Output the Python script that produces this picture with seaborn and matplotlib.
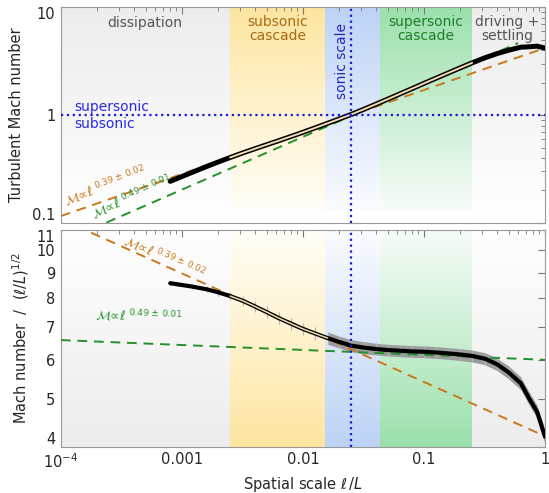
import numpy as np
import matplotlib
matplotlib.use('Agg')
import matplotlib.pyplot as plt
import seaborn as sns
from matplotlib.colors import to_rgb

scale = [0.0008, 0.0012, 0.0016, 0.002, 0.0025, 0.0032, 0.004, 0.005, 0.0063, 0.008,
         0.01, 0.0125, 0.016, 0.02, 0.025, 0.032, 0.04, 0.05, 0.063, 0.08,
         0.1, 0.125, 0.16, 0.2, 0.25, 0.32, 0.4, 0.5, 0.63, 0.75, 0.86, 1.0]
mach_comp = [8.58, 8.45, 8.34, 8.22, 8.08, 7.90, 7.70, 7.50, 7.29, 7.10,
             6.93, 6.79, 6.64, 6.52, 6.41, 6.35, 6.31, 6.28, 6.26, 6.24,
             6.23, 6.21, 6.18, 6.15, 6.11, 6.03, 5.88, 5.66, 5.38, 4.98, 4.71, 4.19]
mach_comp_err = [0.10, 0.11, 0.12, 0.13, 0.15, 0.17, 0.19, 0.20, 0.20, 0.20,
                 0.20, 0.20, 0.19, 0.18, 0.18, 0.18, 0.17, 0.17, 0.17, 0.17,
                 0.17, 0.17, 0.17, 0.17, 0.17, 0.17, 0.17, 0.17, 0.16, 0.15, 0.14, 0.13]

# Ajustes de ley de potencia M ~ l^p
fit_slopes = [0.39, 0.49]
fit_norms = [4.2, 6.0]
fit_colors = ['#c8781e', '#23912a']
fit_labels = [r'$\mathcal{M}\!\propto\!\ell^{\ 0.39\,\pm\,0.02}$',
              r'$\mathcal{M}\!\propto\!\ell^{\ 0.49\,\pm\,0.01}$']

# Regiones
region_names = ['dissipation', 'subsonic\ncascade', 'sonic scale',
                'supersonic\ncascade', 'driving +\nsettling']
region_edges = [1e-4, 0.0025, 0.0152, 0.0433, 0.249, 1.0]
region_colors = ['#ececec', '#fde5a0', '#bcd2f4', '#9adfab', '#ececec']
region_text_colors = ['#555555', '#a86a12', '#2424c0', '#1f7f28', '#555555']
sonic_scale = 0.025

x_ticks = [1e-4, 1e-3, 1e-2, 1e-1, 1]
x_ticklabels = ['10$^{-4}$', '0.001', '0.01', '0.1', '1']
top_yticks = [0.1, 1, 10]
bot_yticks = [4, 5, 6, 7, 8, 9, 10, 11]

sns.set_theme(style='white')
plt.rcParams['font.family'] = ['DejaVu Sans']
plt.rcParams['mathtext.fontset'] = 'dejavusans'

scale_a = np.array(scale)
comp_a = np.array(mach_comp)
err_a = np.array(mach_comp_err)
mach = comp_a * np.sqrt(scale_a)

fig = plt.figure(figsize=(5.49, 4.93), dpi=100)
ax1 = fig.add_axes([0.111, 0.548, 0.8817, 0.437])
ax2 = fig.add_axes([0.111, 0.094, 0.8817, 0.4395])


def shade(ax, x0, x1, color, strong_top, y0=0.0, y1=1.0, n=60):
    c = np.array(to_rgb(color))
    w = np.ones(3)
    edges = np.linspace(y0, y1, n + 1)
    for i in range(n):
        t = (i + 0.5) / n
        s = t if strong_top else 1 - t
        s = 0.08 + 0.92 * s
        ax.axvspan(x0, x1, edges[i], edges[i + 1] + 0.003, color=w + (c - w) * s,
                   lw=0, zorder=0)


for ax in (ax1, ax2):
    ax.set_xscale('log')
    ax.set_yscale('log')
    ax.set_xlim(1e-4, 1)
for i in range(5):
    shade(ax1, region_edges[i], region_edges[i + 1], region_colors[i], True, y0=0.06)
    shade(ax2, region_edges[i], region_edges[i + 1], region_colors[i], False)

# ---- panel superior ----
ax1.set_ylim(0.1, 10)
xfit = np.array([1e-4, 1.0])
ax1.plot(xfit, fit_norms[0] * xfit ** fit_slopes[0], ls='--', dashes=(5, 3.5),
         color=fit_colors[0], lw=1.4, zorder=3)
xg = np.array([1e-4, 0.6])
ax1.plot(xg, fit_norms[1] * xg ** fit_slopes[1], ls='--', dashes=(5, 3.5),
         color=fit_colors[1], lw=1.4, zorder=3)
sns.lineplot(x=scale_a, y=mach, ax=ax1, color='black', lw=3.6, zorder=4)
mid = (scale_a >= 0.0025) & (scale_a <= 0.25)
ax1.plot(scale_a[mid], mach[mid], color='#f1dcb0', lw=1.4, zorder=5)
ax1.axhline(1, color='#1a1ad8', ls=':', lw=1.6, zorder=6)
ax1.axvline(sonic_scale, color='#1a1ad8', ls=':', lw=1.6, zorder=6)

ax1.text(1.3e-4, 1.2, 'supersonic', color='#2a2ae0', fontsize=10, va='center')
ax1.text(1.3e-4, 0.83, 'subsonic', color='#2a2ae0', fontsize=10, va='center')
ax1.text(1.12e-4, 0.142, fit_labels[0], color=fit_colors[0], fontsize=9,
         rotation=21, rotation_mode='anchor')
ax1.text(1.9e-4, 0.107, fit_labels[1], color=fit_colors[1], fontsize=9,
         rotation=24, rotation_mode='anchor')

label_pos = [(4.9e-4, 7.2), (0.0062, 6.3), (0.0212, 3.2), (0.103, 6.3), (0.49, 6.3)]
for name, (lx, ly), tc in zip(region_names, label_pos, region_text_colors):
    rot = 90 if name == 'sonic scale' else 0
    ax1.text(lx, ly, name, color=tc, fontsize=10, ha='center', va='center',
             rotation=rot, linespacing=1.0)

# ---- panel inferior ----
ax2.set_ylim(4, 11)
xfit = np.array([1e-4, 1.0])
for k in range(2):
    ax2.plot(xfit, fit_norms[k] * xfit ** (fit_slopes[k] - 0.5), ls='--', dashes=(5, 3.5),
             color=fit_colors[k], lw=1.4, zorder=3)
band = scale_a >= 0.016
ax2.fill_between(scale_a[band], (comp_a - err_a)[band], (comp_a + err_a)[band],
                 color='#9c9c9c', lw=0, zorder=2)
ax2.errorbar(scale_a, comp_a, yerr=err_a, fmt='none', ecolor='#b4b4b4',
             elinewidth=0.8, capsize=0, zorder=2)
sns.lineplot(x=scale_a, y=comp_a, ax=ax2, color='black', lw=3.0, zorder=4)
mid2 = (scale_a >= 0.0025) & (scale_a <= 0.016)
ax2.plot(scale_a[mid2], comp_a[mid2], color='#f1dcb0', lw=1.1, zorder=5)
ax2.axvline(sonic_scale, color='#1a1ad8', ls=':', lw=1.6, zorder=6)

ax2.text(3.2e-4, 10.25, fit_labels[0], color=fit_colors[0], fontsize=9,
         rotation=-24, rotation_mode='anchor')
ax2.text(1.9e-4, 7.2, fit_labels[1], color=fit_colors[1], fontsize=9,
         rotation=-2, rotation_mode='anchor')

# ---- ejes ----
for ax in (ax1, ax2):
    ax.tick_params(which='both', direction='in', top=True, right=True,
                   color='#777777', labelsize=10.5, pad=4)
    ax.tick_params(which='major', length=5, width=0.8)
    ax.tick_params(which='minor', length=3, width=0.6)
    for sp in ax.spines.values():
        sp.set_color('#999999')
        sp.set_linewidth(0.8)
    ax.set_xticks(x_ticks)

ax1.set_xticklabels([])
ax1.set_yticks(top_yticks)
ax1.set_yticklabels(['0.1', '1', '10'])
ax2.set_xticklabels(x_ticklabels)
ax2.set_yticks(bot_yticks)
ax2.set_yticklabels([str(v) for v in bot_yticks])
ax2.yaxis.set_minor_locator(matplotlib.ticker.NullLocator())

# etiquetas en los bordes desplazadas hacia dentro
for ax in (ax1, ax2):
    ticks = ax.yaxis.get_major_ticks()
    ticks[0].label1.set_verticalalignment('bottom')
    ticks[-1].label1.set_verticalalignment('top')

ax1.set_ylabel('Turbulent Mach number', fontsize=10.5, labelpad=6)
ax2.set_ylabel(r'Mach number  /  $(\ell/L)^{1/2}$', fontsize=10.5, labelpad=4)
ax2.set_xlabel(r'Spatial scale $\ell\,/L$', fontsize=10.5, labelpad=3)

fig.savefig('out.png', dpi=100)
